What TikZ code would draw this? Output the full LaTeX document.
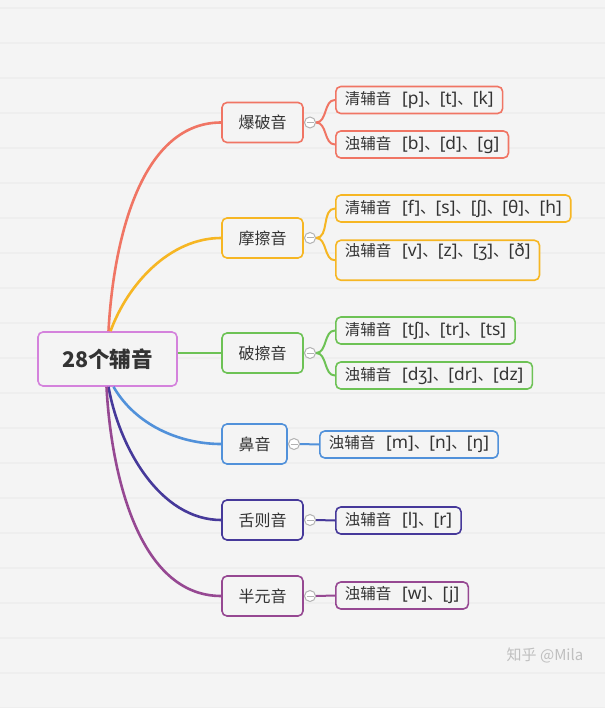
\documentclass[tikz,border=0pt]{standalone}
\usepackage{fontspec}
\setmainfont{Noto Sans CJK SC}
\newfontfamily\ipafont[Scale=1.12]{Noto Sans}
\usetikzlibrary{positioning}

\definecolor{paper}{HTML}{F4F4F4}
\definecolor{rule}{HTML}{EEEEEE}
\definecolor{ink}{HTML}{333333}
\definecolor{rootc}{HTML}{D482DC}
\definecolor{redc}{HTML}{F07564}
\definecolor{yelc}{HTML}{F6B623}
\definecolor{grnc}{HTML}{6DC255}
\definecolor{bluc}{HTML}{5191DA}
\definecolor{indc}{HTML}{46399A}
\definecolor{purc}{HTML}{964892}

\newcommand\ph[1]{{\ipafont[#1]}}
\newcommand\gap{\hspace{0.7em}}

\tikzset{
  box/.style={draw=#1, fill=paper, rounded corners=5pt, line width=1.6pt, text=ink},
  root/.style={box=rootc, minimum width=139pt, minimum height=54pt, font=\fontsize{21.5}{24}\selectfont\bfseries},
  topic/.style={box=#1, minimum width=81pt, minimum height=40pt, font=\fontsize{16}{19}\selectfont},
  leaf/.style={box=#1, anchor=west, minimum height=27pt, inner xsep=9pt, font=\fontsize{15.5}{18}\selectfont},
  branch/.style={draw=#1, line width=2.6pt},
  twig/.style={draw=#1, line width=2pt},
  fold/.style={circle, draw=gray!60, fill=white, line width=1pt, minimum size=11pt, inner sep=0pt,
    path picture={\draw[gray!60, line width=1pt] ([xshift=-3.5pt]path picture bounding box.center) -- ([xshift=3.5pt]path picture bounding box.center);}}
}

\begin{document}
\begin{tikzpicture}[x=1pt, y=-1pt]
% paper
\fill[paper] (0,0) rectangle (605,708);
\useasboundingbox (0,0) rectangle (605,708);
\foreach \k in {0,...,20}
  \draw[rule, line width=1.2pt] (0,8+35*\k) -- (605,8+35*\k);

% centre and topics
\node[root] (rt) at (107.5,359) {28个辅音};
\node[topic=redc] (bp) at (262.5,122.5) {爆破音};
\node[topic=yelc] (mc) at (262.5,238) {摩擦音};
\node[topic=grnc] (pc) at (262.5,353) {破擦音};
\node[topic=bluc, minimum width=65pt] (by) at (254.5,444) {鼻音};
\node[topic=indc] (sc) at (262.5,520) {舌则音};
\node[topic=purc] (by2) at (262.5,596) {半元音};

% leaves
\node[leaf=redc] (bp1) at (335,100) {清辅音\gap\ph{p}、\ph{t}、\ph{k}};
\node[leaf=redc] (bp2) at (335,144.5) {浊辅音\gap\ph{b}、\ph{d}、\ph{g}};
\node[leaf=yelc] (mc1) at (335,208.5) {清辅音\gap\ph{f}、\ph{s}、\ph{ʃ}、\ph{θ}、\ph{h}};
\node[leaf=yelc, anchor=north west, text depth=20pt] (mc2) at (335,239.5) {浊辅音\gap\ph{v}、\ph{z}、\ph{ʒ}、\ph{ð}};
\node[leaf=grnc] (pc1) at (335,330.5) {清辅音\gap\ph{tʃ}、\ph{tr}、\ph{ts}};
\node[leaf=grnc] (pc2) at (335,375.5) {浊辅音\gap\ph{dʒ}、\ph{dr}、\ph{dz}};
\node[leaf=bluc] (by1) at (319,444.5) {浊辅音\gap\ph{m}、\ph{n}、\ph{ŋ}};
\node[leaf=indc] (sc1) at (335,520.5) {浊辅音\gap\ph{l}、\ph{r}};
\node[leaf=purc] (yy1) at (335,595.5) {浊辅音\gap\ph{w}、\ph{j}};

% fold markers
\node[fold] (f1) at (310,122.5) {};
\node[fold] (f2) at (310,238) {};
\node[fold] (f3) at (310,353) {};
\node[fold] (f4) at (294,444) {};
\node[fold] (f5) at (310,520) {};
\node[fold] (f6) at (310,596) {};

% main branches
\draw[branch=redc] ([xshift=1pt]rt.north) to[out=87, in=180, looseness=0.9] (bp.west);
\draw[branch=yelc] ([xshift=3pt]rt.north) to[out=70, in=180, looseness=0.9] (mc.west);
\draw[branch=grnc] (rt.east |- pc.west) -- (pc.west);
\draw[branch=bluc] ([xshift=6pt]rt.south) to[out=-60, in=180, looseness=0.9] (by.west);
\draw[branch=indc] ([xshift=1pt]rt.south) to[out=-80, in=180, looseness=0.9] (sc.west);
\draw[branch=purc] ([xshift=-1pt]rt.south) to[out=-87, in=180, looseness=0.9] (by2.west);

% small branches
\draw[twig=redc] (f1.east) to[out=0, in=180] (bp1.west);
\draw[twig=redc] (f1.east) to[out=0, in=180] (bp2.west);
\draw[twig=yelc] (f2.east) to[out=0, in=180] (mc1.west);
\draw[twig=yelc] (f2.east) to[out=0, in=180] (mc2.west);
\draw[twig=grnc] (f3.east) to[out=0, in=180] (pc1.west);
\draw[twig=grnc] (f3.east) to[out=0, in=180] (pc2.west);
\draw[twig=bluc] (f4.east) -- (by1.west);
\draw[twig=indc] (f5.east) -- (sc1.west);
\draw[twig=purc] (f6.east) -- (yy1.west);

% watermark
\node[text=gray!50, font=\fontsize{15}{17}\selectfont] (wm) at (545,655) {知乎 @Mila};
\end{tikzpicture}
\end{document}
